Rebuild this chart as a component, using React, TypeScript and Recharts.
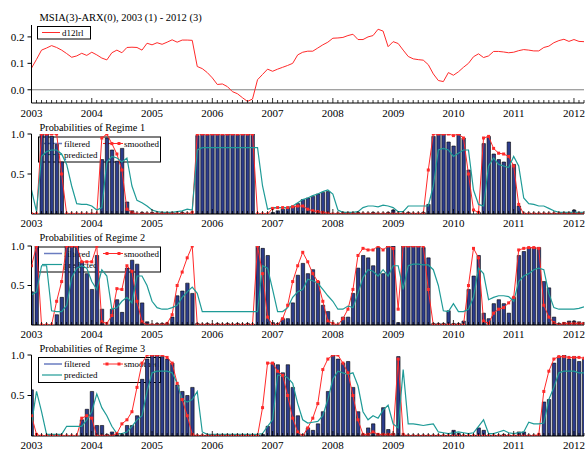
import React from "react";
import { ComposedChart, Bar, Line, XAxis, YAxis, ReferenceLine } from "recharts";

const FONT = '"Liberation Serif", "Times New Roman", serif';
const RED = "#ff2a2a";
const TEAL = "#1f9b97";
const NAVY = "#2c3c8c";
const LEGEND_BLUE = "#6a7cc0";

const yearLabels = ["2003", "2004", "2005", "2006", "2007", "2008", "2009", "2010", "2011", "2012"];

// 12-month growth of the series, 2003(1) - 2012(3)
const d12lrl = [
  0.082, 0.115, 0.15, 0.158, 0.167, 0.16, 0.15, 0.137, 0.123, 0.128, 0.138, 0.13,
  0.142, 0.132, 0.12, 0.113, 0.14, 0.15, 0.14, 0.16, 0.161, 0.16, 0.15, 0.176,
  0.17, 0.178, 0.172, 0.18, 0.189, 0.18, 0.188, 0.188, 0.187, 0.088, 0.08, 0.065,
  0.045, 0.02, 0.022, 0.012, -0.007, -0.015, -0.03, -0.044, -0.035, 0.038, 0.058, 0.078,
  0.07, 0.078, 0.085, 0.092, 0.1, 0.132, 0.142, 0.146, 0.146, 0.158, 0.17, 0.18,
  0.195, 0.196, 0.198, 0.205, 0.21, 0.19, 0.19, 0.2, 0.205, 0.229, 0.222, 0.163,
  0.182, 0.175, 0.15, 0.126, 0.117, 0.114, 0.112, 0.095, 0.06, 0.035, 0.031, 0.065,
  0.055, 0.068, 0.085, 0.1, 0.125, 0.136, 0.122, 0.128, 0.145, 0.145, 0.143, 0.14,
  0.142, 0.148, 0.152, 0.15, 0.147, 0.147, 0.16, 0.165, 0.178, 0.186, 0.191, 0.183,
  0.19, 0.183, 0.182,
];

// Regime 1
const filtered1 = [
  0.01, 0, 1, 1, 0.97, 0.87, 0.65, 0, 0, 0, 0, 0,
  0, 0, 0.68, 0.95, 0.8, 0.66, 0.82, 0.15, 0.04, 0, 0.02, 0.01,
  0.02, 0.01, 0.02, 0.01, 0.02, 0.01, 0.02, 0.01, 0, 0.98, 1, 0.99,
  1, 1, 0.99, 1, 1, 0.99, 1, 1, 1, 0, 0, 0,
  0.02, 0.04, 0.06, 0.08, 0.1, 0.13, 0.18, 0.2, 0.22, 0.25, 0.27, 0.28,
  0, 0.01, 0.02, 0.01, 0.01, 0.02, 0.01, 0.01, 0.02, 0.01, 0.01, 0.02,
  0.05, 0.01, 0.01, 0.02, 0.01, 0.01, 0.02, 0.12, 0.97, 1, 1, 0.9,
  0.85, 1, 0.95, 0.55, 0, 0.02, 0.88, 0.97, 0.75, 0.68, 0.65, 0.9,
  0.62, 0.1, 0.01, 0.01, 0.01, 0.01, 0.01, 0.01, 0.01, 0.01, 0.01, 0.01,
  0.05, 0.01, 0.01,
];
const smoothed1 = [
  0, 0, 1, 1, 1, 1, 0.5, 0, 0, 0, 0, 0,
  0, 0, 0.95, 1, 0.88, 0.75, 0.55, 0.06, 0.02, 0, 0, 0,
  0, 0, 0, 0, 0, 0, 0, 0, 0.02, 1, 1, 1,
  1, 1, 1, 1, 1, 1, 1, 1, 1, 0, 0, 0,
  0.07, 0.08, 0.08, 0.08, 0.09, 0.1, 0.1, 0.06, 0.04, 0.03, 0.02, 0.01,
  0, 0, 0, 0, 0, 0, 0, 0, 0, 0, 0, 0,
  0, 0, 0, 0, 0, 0, 0, 0.55, 1, 1, 1, 1,
  0.98, 1, 0.95, 0.5, 0.05, 0.02, 0.95, 0.97, 0.82, 0.76, 0.75, 0.72,
  0.6, 0.12, 0, 0, 0, 0, 0, 0, 0, 0, 0, 0,
  0, 0, 0,
];
const predicted1 = [
  0.3, 0.03, 0.72, 0.78, 0.8, 0.8, 0.75, 0.62, 0.35, 0.13, 0.12, 0.12,
  0.1, 0.05, 0.08, 0.65, 0.72, 0.7, 0.65, 0.7, 0.35, 0.17, 0.14, 0.1,
  0.05, 0.03, 0.02, 0.02, 0.02, 0.03, 0.04, 0.06, 0.05, 0.8, 0.83, 0.83,
  0.83, 0.83, 0.83, 0.83, 0.83, 0.83, 0.83, 0.83, 0.83, 0.83, 0.35, 0.06,
  0.08, 0.08, 0.08, 0.08, 0.1, 0.14, 0.18, 0.2, 0.23, 0.25, 0.28, 0.3,
  0.25, 0.05, 0.02, 0.02, 0.02, 0.03, 0.08, 0.1, 0.1, 0.09, 0.11, 0.1,
  0.08, 0.03, 0.03, 0.1, 0.1, 0.1, 0.1, 0.1, 0.35, 0.8, 0.82, 0.8,
  0.72, 0.76, 0.8, 0.8, 0.3, 0.12, 0.1, 0.6, 0.7, 0.62, 0.6, 0.58,
  0.72, 0.6, 0.2, 0.13, 0.12, 0.1, 0.1, 0.07, 0.04, 0.02, 0.02, 0.02,
  0.02, 0.02, 0.02,
];

// Regime 2
const filtered2 = [
  0.42, 1, 0, 0, 0, 0.13, 0.35, 1, 1, 1, 0.8, 0.65,
  0.45, 0.88, 0.2, 0, 0.2, 0.32, 0.16, 0.72, 0.82, 0.77, 0.28, 0.04,
  0.01, 0.02, 0.02, 0.02, 0.1, 0.37, 0.43, 0.53, 0.4, 0.02, 0.01, 0.02,
  0.01, 0.02, 0.01, 0.02, 0.01, 0.02, 0.01, 0.02, 0.01, 1, 0.97, 0.88,
  0.03, 0.02, 0.08, 0.08, 0.28, 0.63, 0.78, 0.65, 0.7, 0.55, 0.25, 0.17,
  0, 0, 0.1, 0.1, 0.4, 0.72, 0.88, 0.85, 0.75, 0.98, 0.65, 1,
  1, 0.03, 1, 1, 1, 1, 0.98, 0.85, 0.02, 0.02, 0.02, 0.18,
  0.02, 0.02, 0.05, 0.45, 0.62, 0.88, 0.15, 0.08, 0.27, 0.32, 0.27, 0.15,
  0.35, 0.88, 0.93, 0.98, 0.98, 0.98, 0.55, 0.47, 0.1, 0.02, 0.03, 0.05,
  0.05, 0.04, 0.03,
];
const smoothed2 = [
  0.75, 1, 0, 0, 0, 0.3, 0.55, 1, 1, 1, 0.8, 0.8,
  0.8, 1, 0.04, 0.02, 0.12, 0.46, 0.45, 0.75, 0.68, 0.3, 0.04, 0,
  0, 0, 0, 0.02, 0.13, 0.5, 0.67, 0.85, 1, 0, 0, 0,
  0, 0, 0, 0, 0, 0, 0, 0, 0, 1, 0.65, 0.1,
  0, 0, 0.08, 0.25, 0.55, 0.75, 0.92, 0.8, 0.65, 0.55, 0.3, 0.05,
  0.02, 0, 0.08, 0.2, 0.45, 0.88, 0.97, 0.95, 0.95, 1, 0.95, 1,
  0.97, 0.2, 1, 1, 1, 1, 1, 0.45, 0, 0, 0, 0,
  0, 0, 0, 0.5, 0.97, 0.85, 0.05, 0.02, 0.15, 0.2, 0.22, 0.28,
  0.35, 0.95, 0.97, 0.98, 0.98, 0.97, 0.25, 0.1, 0.03, 0, 0.02, 0.02,
  0.02, 0.02, 0.02,
];
const predicted2 = [
  0.38, 0.42, 0.75, 0.75, 0.18, 0.17, 0.17, 0.25, 0.6, 0.72, 0.75, 0.72,
  0.55, 0.45, 0.7, 0.62, 0.2, 0.22, 0.3, 0.35, 0.28, 0.62, 0.62, 0.5,
  0.3, 0.22, 0.2, 0.2, 0.22, 0.25, 0.35, 0.42, 0.48, 0.4, 0.17, 0.17,
  0.17, 0.17, 0.17, 0.17, 0.17, 0.17, 0.17, 0.17, 0.17, 0.17, 0.75, 0.72,
  0.45, 0.17, 0.17, 0.22, 0.35, 0.42, 0.45, 0.58, 0.56, 0.53, 0.45, 0.37,
  0.3, 0.2, 0.2, 0.24, 0.22, 0.4, 0.6, 0.7, 0.68, 0.62, 0.7, 0.62,
  0.75, 0.75, 0.45, 0.75, 0.77, 0.77, 0.76, 0.76, 0.7, 0.5, 0.18, 0.17,
  0.27, 0.17, 0.17, 0.2, 0.35, 0.72, 0.65, 0.32, 0.35, 0.37, 0.37, 0.36,
  0.3, 0.55, 0.62, 0.65, 0.7, 0.72, 0.7, 0.4, 0.22, 0.2, 0.2, 0.2,
  0.2, 0.21, 0.23,
];

// Regime 3
const filtered3 = [
  0.57, 0, 0, 0, 0, 0, 0, 0, 0, 0, 0.2, 0.33,
  0.55, 0.13, 0.13, 0.02, 0.05, 0.02, 0.02, 0.13, 0.13, 0.25, 0.7, 0.95,
  1, 1, 0.98, 0.95, 0.9, 0.63, 0.55, 0.5, 0.6, 0.01, 0.01, 0.01,
  0.01, 0.01, 0.01, 0.01, 0.01, 0.01, 0.01, 0.01, 0.01, 0.01, 0.02, 0.12,
  0.9, 0.88, 0.78, 0.88, 0.6, 0.25, 0.02, 0.1, 0.07, 0.15, 0.3, 0.55,
  1, 0.95, 0.9, 0.92, 0.6, 0.3, 0.02, 0.1, 0.15, 0.02, 0.35, 0.08,
  0.03, 0.98, 0.01, 0.01, 0.01, 0.01, 0.01, 0.01, 0.01, 0.01, 0.01, 0.01,
  0.07, 0.03, 0.01, 0.01, 0.01, 0.1, 0.07, 0.01, 0.01, 0.01, 0.02, 0.01,
  0.01, 0.05, 0.05, 0.01, 0.01, 0.01, 0.42, 0.45, 0.9, 0.98, 1, 0.95,
  0.98, 0.92, 0.95,
];
const smoothed3 = [
  0.25, 0.02, 0, 0, 0, 0, 0, 0, 0, 0, 0.22, 0.25,
  0.22, 0, 0, 0, 0, 0.03, 0.15, 0.2, 0.3, 0.6, 0.9, 1,
  1, 1, 1, 0.97, 0.9, 0.65, 0.45, 0.25, 0.02, 0, 0, 0,
  0, 0, 0, 0, 0, 0, 0, 0, 0, 0, 0.35, 0.9,
  0.9, 0.8, 0.75, 0.5, 0.22, 0.05, 0, 0.1, 0.22, 0.4, 0.82, 0.95,
  1, 1, 0.9, 0.78, 0.5, 0.2, 0.02, 0.02, 0.05, 0.02, 0.02, 0.02,
  0.02, 0.95, 0.02, 0, 0, 0, 0, 0, 0, 0, 0, 0,
  0, 0, 0, 0, 0, 0, 0, 0, 0, 0, 0, 0,
  0, 0, 0, 0, 0, 0.02, 0.55, 0.8, 0.95, 0.98, 0.98, 0.97,
  0.97, 0.97, 0.96,
];
const predicted3 = [
  0.15, 0.55, 0.3, 0.02, 0.02, 0.02, 0.02, 0.12, 0.12, 0.12, 0.12, 0.2,
  0.3, 0.52, 0.35, 0.25, 0.12, 0.03, 0.03, 0.05, 0.12, 0.2, 0.25, 0.55,
  0.78, 0.8, 0.8, 0.8, 0.78, 0.65, 0.45, 0.42, 0.45, 0.55, 0.05, 0.02,
  0.02, 0.02, 0.02, 0.02, 0.02, 0.02, 0.02, 0.02, 0.02, 0.02, 0.03, 0.12,
  0.2, 0.75, 0.75, 0.72, 0.65, 0.4, 0.2, 0.16, 0.17, 0.18, 0.25, 0.45,
  0.7, 0.8, 0.78, 0.76, 0.78, 0.62, 0.3, 0.2, 0.25, 0.22, 0.32, 0.38,
  0.15, 0.1, 0.82, 0.15, 0.15, 0.14, 0.13, 0.14, 0.15, 0.05, 0.04, 0.03,
  0.04, 0.05, 0.04, 0.03, 0.04, 0.12, 0.2, 0.03, 0.03, 0.05, 0.07, 0.04,
  0.03, 0.04, 0.05, 0.17, 0.15, 0.15, 0.16, 0.45, 0.6, 0.78, 0.8, 0.8,
  0.8, 0.78, 0.78,
];

const monthTicks = d12lrl.map((_, i) => i);
const levelData = d12lrl.map((v, i) => ({ i, v }));

const makeTick = (labelDy: number) => (props: any) => {
  const { x, y, payload } = props;
  const isYear = payload.value % 12 === 0;
  return (
    <g>
      <line x1={x} x2={x} y1={y} y2={y - (isYear ? 5 : 3)} stroke="#000" strokeWidth={0.8} />
      {isYear && (
        <text x={x} y={y + labelDy} textAnchor="middle" fontSize={11} fontFamily={FONT} fill="#000">
          {yearLabels[payload.value / 12]}
        </text>
      )}
    </g>
  );
};

const SquareDot = (props: any) => {
  const { cx, cy, index } = props;
  if (cx == null || cy == null) return <g key={`sq-${index}`} />;
  return <rect key={`sq-${index}`} x={cx - 1.5} y={cy - 1.5} width={3} height={3} fill={RED} />;
};

const yTick = { fontSize: 11, fill: "#000", fontFamily: FONT };

function RegimePanel({ top, height, marginTop, axisH, filtered, smoothed, predicted }: any) {
  const data = filtered.map((f: number, i: number) => ({ i, f, s: smoothed[i], p: predicted[i] }));
  return (
    <div style={{ position: "absolute", left: 0, top }}>
      <ComposedChart width={587} height={height} data={data} margin={{ top: marginTop, right: 3, bottom: 0, left: 0 }}>
        <XAxis
          dataKey="i"
          type="number"
          domain={[0, 110]}
          ticks={monthTicks}
          interval={0}
          height={axisH}
          tickSize={0}
          tickMargin={0}
          tickLine={false}
          axisLine={{ stroke: "#000" }}
          tick={makeTick(12.5)}
          allowDataOverflow
        />
        <YAxis
          type="number"
          domain={[0, 1]}
          ticks={[0.5, 1]}
          tickFormatter={(v: number) => v.toFixed(1)}
          width={31.5}
          tick={yTick}
          tickSize={4}
          tickMargin={3}
          axisLine={{ stroke: "#000" }}
          tickLine={{ stroke: "#000" }}
          allowDataOverflow
        />
        <Bar dataKey="f" barSize={3.4} fill={NAVY} stroke="#000" strokeWidth={0.6} isAnimationActive={false} />
        <Line dataKey="s" type="linear" stroke={RED} strokeWidth={1} dot={SquareDot} activeDot={false} isAnimationActive={false} />
        <Line dataKey="p" type="linear" stroke={TEAL} strokeWidth={1.2} dot={false} activeDot={false} isAnimationActive={false} />
      </ComposedChart>
    </div>
  );
}

function RegimeLegend({ top }: { top: number }) {
  return (
    <g fontFamily={FONT} fontSize={9} fill="#000">
      <rect x={38.5} y={top + 0.5} width={122} height={25} fill="none" stroke="#000" />
      <line x1={44} x2={62} y1={top + 7} y2={top + 7} stroke={LEGEND_BLUE} strokeWidth={1.5} />
      <text x={64} y={top + 10}>filtered</text>
      <line x1={103} x2={123} y1={top + 7} y2={top + 7} stroke={RED} />
      <rect x={105.5} y={top + 5.5} width={3} height={3} fill={RED} />
      <rect x={117.5} y={top + 5.5} width={3} height={3} fill={RED} />
      <text x={124} y={top + 10}>smoothed</text>
      <line x1={42} x2={62} y1={top + 18} y2={top + 18} stroke={TEAL} strokeWidth={1.2} />
      <text x={64} y={top + 21}>predicted</text>
    </g>
  );
}

export default function App() {
  return (
    <div style={{ position: "absolute", left: 0, top: 0, width: 587, height: 451, background: "#fff", overflow: "hidden" }}>
      <svg width={587} height={451} style={{ position: "absolute", left: 0, top: 0 }}>
        <g fontFamily={FONT} fill="#000">
          <text x={39.5} y={20.5} fontSize={10.5}>MSIA(3)-ARX(0), 2003 (1) - 2012 (3)</text>
          <text x={39.5} y={130.5} fontSize={10.3}>Probabilities of Regime 1</text>
          <text x={39.5} y={241} fontSize={10.3}>Probabilities of Regime 2</text>
          <text x={39.5} y={351.5} fontSize={10.3}>Probabilities of Regime 3</text>
        </g>
        <g fontFamily={FONT} fontSize={9} fill="#000">
          <rect x={37.5} y={26.5} width={53} height={12.5} fill="none" stroke="#000" />
          <line x1={42} x2={60} y1={32.5} y2={32.5} stroke={RED} />
          <text x={62} y={36}>d12lrl</text>
        </g>
        <RegimeLegend top={136.5} />
        <RegimeLegend top={246.5} />
        <RegimeLegend top={357} />
      </svg>

      <div style={{ position: "absolute", left: 0, top: 0 }}>
        <ComposedChart width={587} height={120} data={levelData} margin={{ top: 25, right: 3, bottom: 0, left: 0 }}>
          <XAxis
            dataKey="i"
            type="number"
            domain={[0, 110]}
            ticks={monthTicks}
            interval={0}
            height={17}
            tickSize={0}
            tickMargin={0}
            tickLine={false}
            axisLine={{ stroke: "#000" }}
            tick={makeTick(13.5)}
            allowDataOverflow
          />
          <YAxis
            type="number"
            domain={[-0.05, 0.245]}
            ticks={[0, 0.1, 0.2]}
            tickFormatter={(v: number) => v.toFixed(1)}
            width={31.5}
            tick={yTick}
            tickSize={4}
            tickMargin={3}
            axisLine={{ stroke: "#000" }}
            tickLine={{ stroke: "#000" }}
            allowDataOverflow
          />
          <ReferenceLine y={0} stroke="#808080" strokeWidth={1} />
          <Line dataKey="v" type="linear" stroke={RED} strokeWidth={1} dot={false} activeDot={false} isAnimationActive={false} />
        </ComposedChart>
      </div>

      <RegimePanel top={120} height={110} marginTop={14} axisH={16} filtered={filtered1} smoothed={smoothed1} predicted={predicted1} />
      <RegimePanel top={230} height={111} marginTop={16} axisH={16} filtered={filtered2} smoothed={smoothed2} predicted={predicted2} />
      <RegimePanel top={341} height={110} marginTop={14} axisH={15} filtered={filtered3} smoothed={smoothed3} predicted={predicted3} />
    </div>
  );
}
